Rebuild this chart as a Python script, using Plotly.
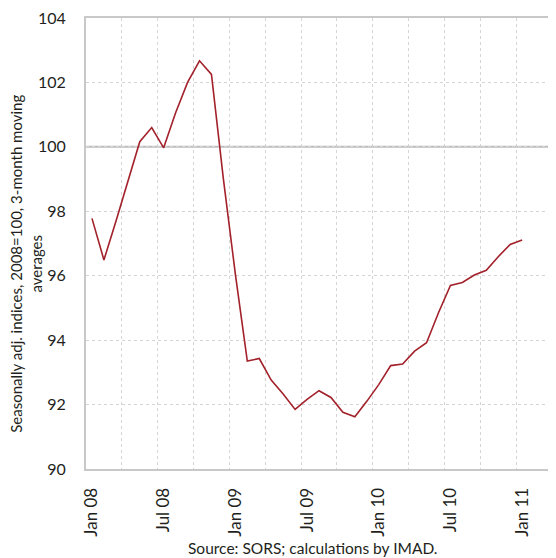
import plotly.graph_objects as go

months = ["2008-01","2008-02","2008-03","2008-04","2008-05","2008-06","2008-07","2008-08","2008-09","2008-10","2008-11","2008-12",
          "2009-01","2009-02","2009-03","2009-04","2009-05","2009-06","2009-07","2009-08","2009-09","2009-10","2009-11","2009-12",
          "2010-01","2010-02","2010-03","2010-04","2010-05","2010-06","2010-07","2010-08","2010-09","2010-10","2010-11","2010-12",
          "2011-01"]
values = [97.78, 96.49, 97.68, 98.95, 100.16, 100.60, 99.97, 101.06, 102.00, 102.67, 102.25, 99.00,
          96.05, 93.35, 93.43, 92.76, 92.33, 91.85, 92.16, 92.43, 92.22, 91.76, 91.62, 92.10,
          92.62, 93.21, 93.26, 93.66, 93.92, 94.85, 95.70, 95.79, 96.02, 96.17, 96.59, 96.97,
          97.11]
tick_labels = ["Jan 08", "Jul 08", "Jan 09", "Jul 09", "Jan 10", "Jul 10", "Jan 11"]
tick_index = [0, 6, 12, 18, 24, 30, 36]
n_categories = 39  # Jan 08 .. Mar 11 on the category axis

x_idx = list(range(len(months)))
grid_positions = [k - 0.5 for k in range(3, n_categories + 1, 3)]

FONT = "Lato"
TXT = "#231f20"
GRID = "#c8c8c8"

fig = go.Figure()
fig.add_trace(go.Scatter(x=x_idx, y=values, mode="lines",
                         line=dict(color="#a3212b", width=1.6),
                         showlegend=False, hoverinfo="skip"))

fig.add_shape(type="line", xref="paper", yref="y", x0=0, x1=1, y0=100, y1=100,
              line=dict(color="#bdbdbd", width=2), layer="below")

fig.update_layout(
    width=548, height=550,
    margin=dict(l=78, r=4, t=10, b=89),
    paper_bgcolor="white", plot_bgcolor="white",
    font=dict(family=FONT, size=15, color=TXT),
    xaxis=dict(
        range=[-0.5, n_categories - 0.5], automargin=False,
        tickmode="array", tickvals=tick_index, ticktext=tick_labels,
        tickangle=-90, ticks="", showgrid=False, zeroline=False,
        showline=True, linecolor=GRID, linewidth=2, mirror=True,
        ticklabelstandoff=10, ticklabeloverflow="allow",
        tickfont=dict(family=FONT, size=17, color=TXT),
        minor=dict(tickmode="array", tickvals=grid_positions, showgrid=True,
                   gridcolor="#d4d4d4", gridwidth=1, griddash="dot", ticks=""),
    ),
    yaxis=dict(
        range=[90, 104], tickmode="linear", tick0=90, dtick=2, automargin=False,
        showgrid=True, gridcolor="#d4d4d4", gridwidth=1, griddash="dot",
        zeroline=False, showline=True, linecolor=GRID, linewidth=2,
        ticks="", ticklabelstandoff=15, ticklabeloverflow="allow",
        tickfont=dict(family=FONT, size=16, color=TXT),
    ),
    annotations=[
        dict(text="Source: SORS; calculations by IMAD.", xref="paper", yref="paper",
             x=0.485, y=0, yshift=-79, xanchor="center", yanchor="middle",
             showarrow=False, font=dict(family=FONT, size=15.5, color=TXT)),
        dict(text="Seasonally adj. indices, 2008=100, 3-month moving<br>averages",
             xref="paper", yref="paper", x=0, y=0.455, xshift=-60, xanchor="center",
             yanchor="middle", textangle=-90, showarrow=False,
             font=dict(family=FONT, size=15, color=TXT)),
    ],
)

fig.write_html("out.html")
